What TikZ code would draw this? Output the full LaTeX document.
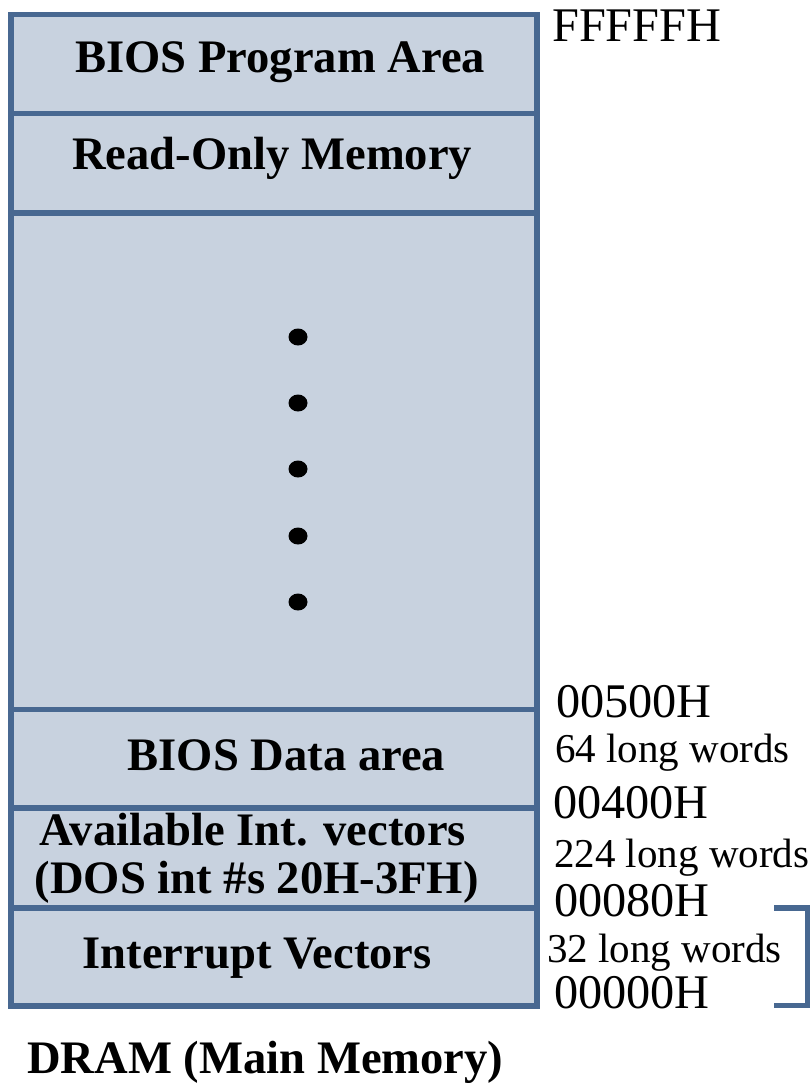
\documentclass[tikz,border=0pt]{standalone}
\usepackage{fontspec}
\setmainfont{Liberation Serif}
\definecolor{cellblue}{HTML}{C8D2DF}
\definecolor{edgeblue}{HTML}{486891}
\tikzset{
  memblock/.style={draw=edgeblue, fill=cellblue, line width=5.5pt, inner sep=0pt,
    minimum width=526pt},
  blocklabel/.style={anchor=base west, inner sep=0pt,
    font=\bfseries\fontsize{46.6}{50}\selectfont},
  addrlabel/.style={anchor=base west, inner sep=0pt,
    font=\fontsize{48.3}{52}\selectfont},
  sizelabel/.style={anchor=base west, inner sep=0pt,
    font=\fontsize{41}{44}\selectfont},
  gapdot/.style={fill=black},
  spanmark/.style={draw=edgeblue, line width=5.5pt, line join=miter}
}
\begin{document}
\begin{tikzpicture}[x=1pt, y=-1pt]
\useasboundingbox (0,0) rectangle (811,1083);

% memory blocks, top (high addresses) to bottom
\node[memblock, minimum height=99pt]   (bios)  at (274,64)      {};
\node[memblock, minimum height=99.5pt] (rom)   at (274,163.25)  {};
\node[memblock, minimum height=496.5pt](free)  at (274,461.25)  {};
\node[memblock, minimum height=98.5pt] (bdata) at (274,758.75)  {};
\node[memblock, minimum height=100pt]  (avail) at (274,858)     {};
\node[memblock, minimum height=98pt]   (ivt)   at (274,957)     {};

% block names
\node[blocklabel] (biosT)  at (75,73)   {BIOS Program Area};
\node[blocklabel] (romT)   at (72,170)  {Read-Only Memory};
\node[blocklabel] (bdataT) at (127.5,770) {BIOS Data area};
\node[blocklabel] (availT) at (39.5,845)  {Available Int. vectors};
\node[blocklabel] (dosT)   at (34.5,893)  {(DOS int \#s 20H-3FH)};
\node[blocklabel] (ivtT)   at (82.5,968)  {Interrupt Vectors};

% ellipsis in the unused region
\foreach \yy in {337,403,469,536,602}
  \fill[gapdot] (298,\yy) ellipse [x radius=9.5, y radius=8.5];

% addresses and sizes
\node[addrlabel] (aTop) at (552,42)   {FFFFFH};
\node[addrlabel] (a500) at (556,717)  {00500H};
\node[sizelabel] (s64)  at (555,762)  {64 long words};
\node[addrlabel] (a400) at (553,818)  {00400H};
\node[sizelabel] (s224) at (554,867)  {224 long words};
\node[addrlabel] (a080) at (554,916)  {00080H};
\node[sizelabel] (s32)  at (547,962)  {32 long words};
\node[addrlabel] (a000) at (554,1008) {00000H};

% bracket around the interrupt vector range
\coordinate (brTop) at (774,908);
\coordinate (brBot) at (774,1005.5);
\draw[spanmark] (brTop) -- (807.5,908) -- (807.5,1005.5) -- (brBot);

% caption
\node[blocklabel] (caption) at (27,1073) {DRAM (Main Memory)};
\end{tikzpicture}
\end{document}
